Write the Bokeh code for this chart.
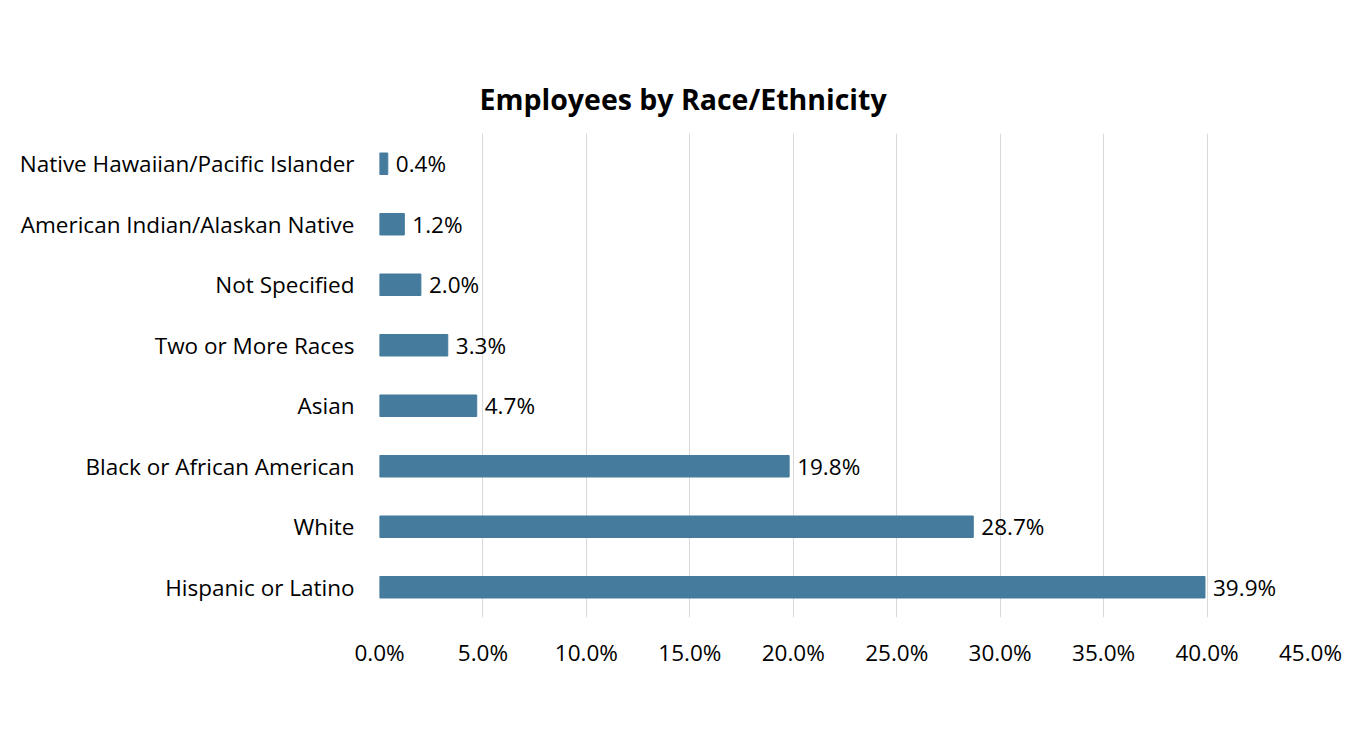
from bokeh.plotting import figure
from bokeh.models import ColumnDataSource, LabelSet, PrintfTickFormatter, Range1d, FactorRange, Title, FixedTicker
from bokeh.core.properties import value
from bokeh.embed import file_html
from bokeh.resources import INLINE

categories = ["Hispanic or Latino", "White", "Black or African American", "Asian",
              "Two or More Races", "Not Specified", "American Indian/Alaskan Native",
              "Native Hawaiian/Pacific Islander"]
values = [39.9, 28.7, 19.8, 4.7, 3.3, 2.0, 1.2, 0.4]
labels = [f"{v:.1f}%" for v in values]
x_ticks = [0, 5, 10, 15, 20, 25, 30, 35, 40, 45]

FONT = "Open Sans"
BAR = "#457B9D"
FS = "22.5px"

src = ColumnDataSource(dict(cat=categories, val=values, lab=labels))

p = figure(width=1349, height=733, y_range=FactorRange(*categories),
           x_range=Range1d(0, 45), output_backend="svg", toolbar_location=None,
           min_border_left=379, min_border_right=39, min_border_top=133, min_border_bottom=116)
t = Title(text="Employees by Race/Ethnicity", align="left", offset=100,
          text_font=FONT, text_font_size="28.5px", text_font_style="bold",
          text_color="#000000", standoff=31)
p.add_layout(t, "above")

p.hbar(y="cat", right="val", left=0, height=0.355, source=src, color=BAR)

p.add_layout(LabelSet(x="val", y="cat", text="lab", source=src, x_offset=8,
                      text_baseline="middle", text_font=value(FONT),
                      text_font_size=value(FS), text_color="#000000"))

p.outline_line_color = None
p.ygrid.grid_line_color = None
p.xgrid.grid_line_color = "#D9D9D9"
p.xgrid.grid_line_width = 1

p.xaxis.ticker = FixedTicker(ticks=x_ticks)
p.xaxis.formatter = PrintfTickFormatter(format="%.1f%%")
for ax in (p.xaxis[0], p.yaxis[0]):
    ax.axis_line_color = None
    ax.major_tick_line_color = None
    ax.minor_tick_line_color = None
    ax.major_label_text_font = FONT
    ax.major_label_text_font_size = FS
    ax.major_label_text_color = "#000000"
p.xaxis.major_label_standoff = 13
p.yaxis.major_label_standoff = 19

open("out.html", "w").write(file_html(p, INLINE))
